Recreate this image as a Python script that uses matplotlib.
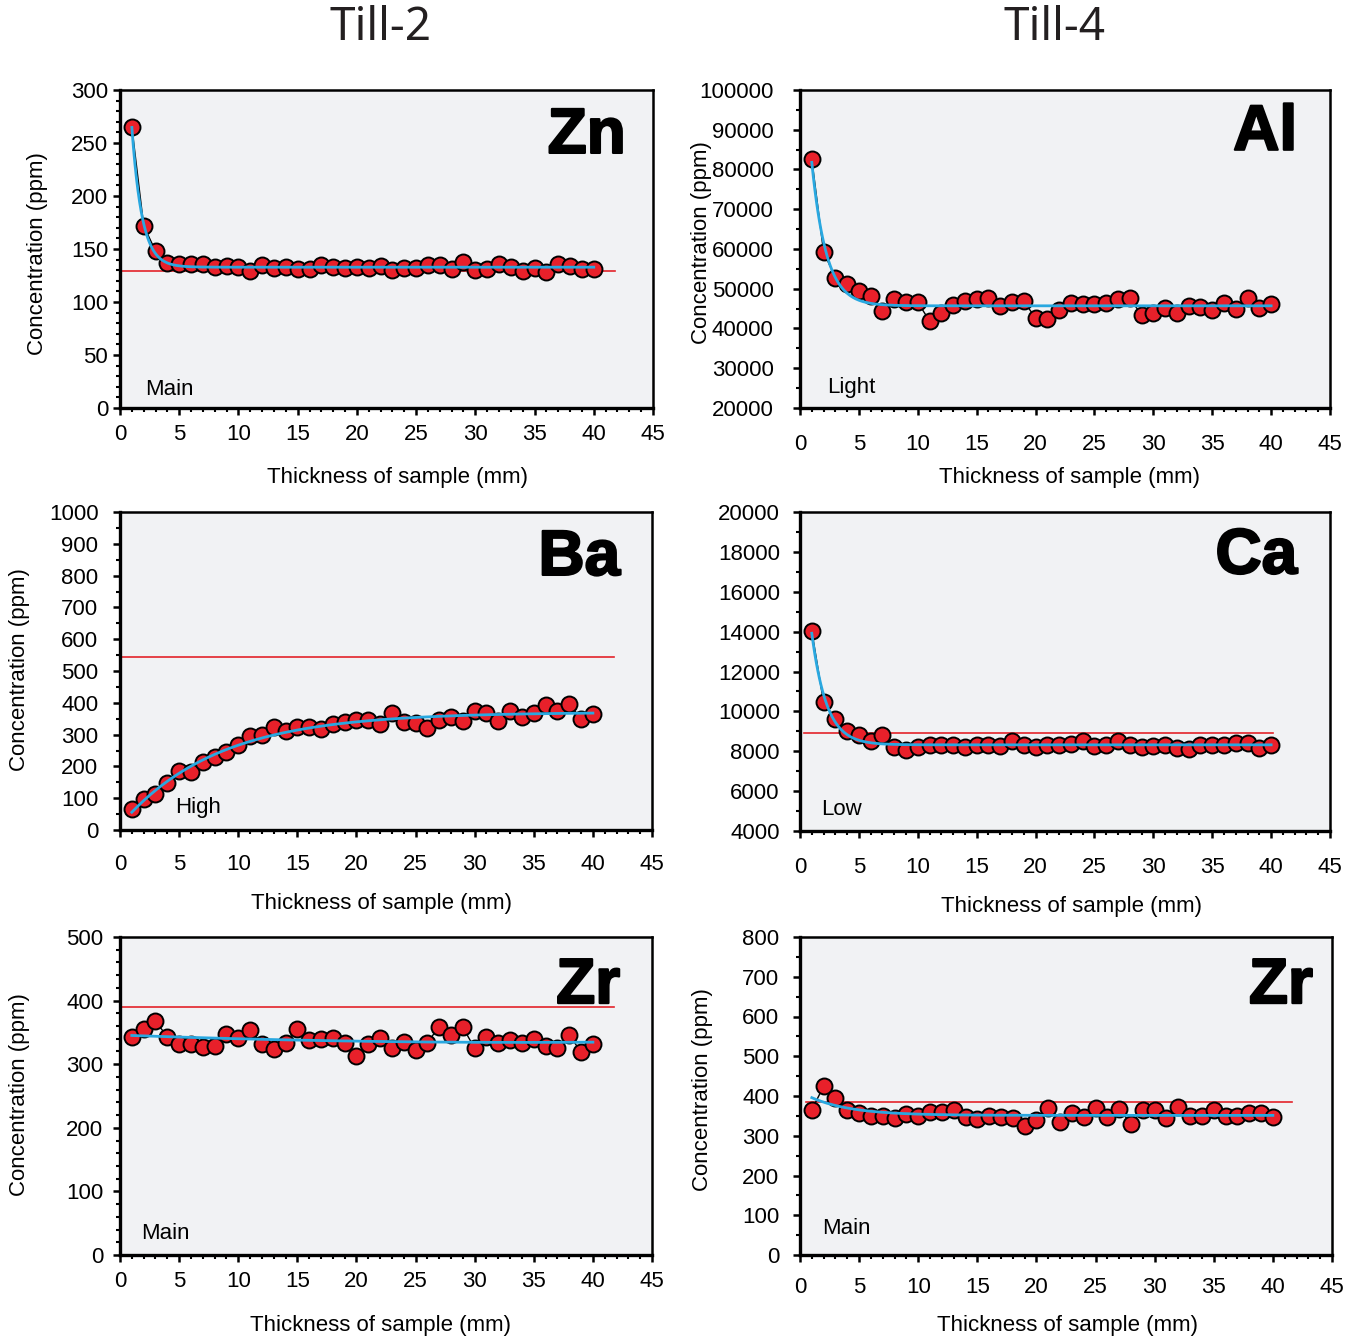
import numpy as np
import matplotlib
matplotlib.use("Agg")
import matplotlib.pyplot as plt
from matplotlib.ticker import MultipleLocator
import matplotlib.patheffects as pe

plt.rcParams['font.family'] = ['Liberation Sans', 'DejaVu Sans']

# ---------------- data ----------------
thickness = list(range(1, 41))

zn_till2 = [265, 172, 148, 137, 136, 135.5, 136, 133, 134, 133, 129.5, 135, 132, 133, 131.5,
            131.5, 134.5, 133, 132, 133, 132, 134, 130, 132, 132, 135, 134.5, 131.5, 137.5, 130,
            131.5, 135.5, 133, 129.5, 132.5, 128, 136, 134, 131.5, 131]
ba_till2 = [65, 96, 113, 149, 186, 182, 215, 231, 245, 266, 296, 298, 325, 312, 325, 324, 317,
            333, 340, 346, 346, 332, 369, 340, 337, 322, 346, 356, 343, 375, 369, 343, 375, 356,
            369, 392, 374, 396, 350, 365]
zr_till2 = [343, 356, 368, 343, 332, 332, 327, 329, 347, 341, 354, 332, 324, 334, 356, 338, 340,
            341, 333, 313, 332, 341, 325, 335, 322, 334, 359, 346, 358, 325, 343, 334, 338, 333,
            339, 329, 325, 346, 319, 331]
al_till4 = [82566, 59300, 52800, 51200, 49400, 48300, 44400, 47300, 46600, 46600, 41900, 44000,
            45900, 46900, 47300, 47600, 45700, 46700, 46900, 42600, 42300, 44700, 46300, 46100,
            46100, 46300, 47300, 47600, 43400, 44000, 45100, 44000, 45700, 45400, 44700, 46300,
            44900, 47700, 45100, 46200]
ca_till4 = [14029, 10457, 9618, 8998, 8797, 8495, 8830, 8210, 8042, 8210, 8327, 8327, 8327, 8210,
            8327, 8327, 8243, 8495, 8327, 8210, 8327, 8327, 8360, 8495, 8243, 8327, 8495, 8327,
            8210, 8243, 8327, 8159, 8109, 8327, 8327, 8327, 8411, 8411, 8159, 8327]
zr_till4 = [365, 425, 396, 365, 356, 350, 350, 345, 355, 350, 359, 359, 365, 346, 342, 350, 346,
            345, 325, 340, 369, 334, 356, 346, 369, 346, 367, 330, 365, 365, 344, 372, 350, 350,
            365, 350, 350, 356, 358, 348]

# reference (red) levels and their x extent
ref_levels = {'Zn': 129, 'Ba': 543, 'ZrL': 390, 'Al': None, 'Ca': 8914, 'ZrR': 384}
ref_extent = {'Zn': (0, 41.8), 'Ba': (0, 41.8), 'ZrL': (0, 41.8), 'Al': None,
              'Ca': (0.3, 40.2), 'ZrR': (0.5, 41.6)}

column_titles = ['Till-2', 'Till-4']

# ---------------- fitting ----------------
def exp_fit(x, y, xf):
    x = np.asarray(x, float); y = np.asarray(y, float)
    best = None
    for k in np.linspace(0.02, 3.0, 1500):
        A = np.column_stack([np.ones_like(x), np.exp(-k * x)])
        coef, *_ = np.linalg.lstsq(A, y, rcond=None)
        sse = np.sum((A @ coef - y) ** 2)
        if best is None or sse < best[0]:
            best = (sse, k, coef)
    _, k, (a, b) = best
    return a + b * np.exp(-k * xf)

def poly_fit(x, y, xf, deg=2):
    p = np.polyfit(x, y, deg)
    return np.polyval(p, xf)

# ---------------- layout ----------------
W, H = 1365, 1341
fig = plt.figure(figsize=(W / 100, H / 100), dpi=100)

def px_axes(l, r, t, b):
    return fig.add_axes([l / W, 1 - b / H, (r - l) / W, (b - t) / H])

panels = [
    dict(key='Zn', y=zn_till2, box=(120, 653, 90, 408), ylim=(0, 300), major=50, minor=10,
         sym='Zn', tag='Main', tag_pos=(0.048, 0.057), fit='exp', ylabel=True,
         ylab=(-0.155, 0.487), xlab=(0.52, -0.22), xpad=6.5, ypad=3.6, sym_pos=(0.949, 0.95)),
    dict(key='Ba', y=ba_till2, box=(120, 652, 512, 830), ylim=(0, 1000), major=100, minor=50,
         sym='Ba', tag='High', tag_pos=(0.103, 0.072), fit='exp', ylabel=True,
         ylab=(-0.188, 0.503), xlab=(0.492, -0.23), xpad=12, ypad=10.5, sym_pos=(0.94, 0.95)),
    dict(key='ZrL', y=zr_till2, box=(120, 652, 937, 1255), ylim=(0, 500), major=100, minor=20,
         sym='Zr', tag='Main', tag_pos=(0.039, 0.069), fit='poly', ylabel=True,
         ylab=(-0.188, 0.503), xlab=(0.489, -0.223), xpad=6.5, ypad=7, sym_pos=(0.94, 0.94)),
    dict(key='Al', y=al_till4, box=(800, 1330, 90, 408), ylim=(20000, 100000), major=10000, minor=5000,
         sym='Al', tag='Light', tag_pos=(0.051, 0.066), fit='exp', ylabel=True,
         ylab=(-0.186, 0.519), xlab=(0.509, -0.22), xpad=14, ypad=14, sym_pos=(0.938, 0.96)),
    dict(key='Ca', y=ca_till4, box=(800, 1330, 512, 831), ylim=(4000, 20000), major=2000, minor=1000,
         sym='Ca', tag='Low', tag_pos=(0.04, 0.066), fit='exp', ylabel=False,
         ylab=None, xlab=(0.513, -0.238), xpad=13.5, ypad=9.5, sym_pos=(0.938, 0.955)),
    dict(key='ZrR', y=zr_till4, box=(800, 1332, 937, 1255), ylim=(0, 800), major=100, minor=50,
         sym='Zr', tag='Main', tag_pos=(0.041, 0.082), fit='exp', ylabel=True,
         ylab=(-0.183, 0.519), xlab=(0.502, -0.223), xpad=11, ypad=10, sym_pos=(0.964, 0.94)),
]

RED = '#E3232A'
BLUE = '#29A8E0'
BG = '#F1F2F4'
FS = 16

xf = np.linspace(1, 40, 300)

for p in panels:
    ax = px_axes(*p['box'])
    ax.set_facecolor(BG)
    x = np.array(thickness, float)
    y = np.array(p['y'], float)

    lvl = ref_levels[p['key']]
    if lvl is not None:
        x0, x1 = ref_extent[p['key']]
        ax.plot([x0, x1], [lvl, lvl], color=RED, lw=1.2, zorder=2)

    ax.plot(x, y, color='black', lw=1.0, zorder=3)
    ax.plot(x, y, 'o', ms=11.5, mfc='#E8202A', mec='black', mew=1.4, zorder=4)

    if p['fit'] == 'exp':
        yf = exp_fit(x, y, xf)
    else:
        yf = poly_fit(x, y, xf, 2)
    ax.plot(xf, yf, color=BLUE, lw=2.0, zorder=5)

    ax.set_xlim(0, 45)
    ax.set_ylim(*p['ylim'])
    ax.xaxis.set_major_locator(MultipleLocator(5))
    ax.xaxis.set_minor_locator(MultipleLocator(1))
    ax.yaxis.set_major_locator(MultipleLocator(p['major']))
    ax.yaxis.set_minor_locator(MultipleLocator(p['minor']))

    for s in ['left', 'bottom']:
        ax.spines[s].set_linewidth(2.4)
    for s in ['top', 'right']:
        ax.spines[s].set_linewidth(1.8)

    ax.tick_params(which='major', direction='out', length=5, width=1.8, labelsize=FS)
    ax.tick_params(which='minor', direction='out', length=3, width=1.5)
    ax.tick_params(axis='x', which='major', pad=p['xpad'])
    ax.tick_params(axis='y', which='major', pad=p['ypad'])

    ax.set_xlabel('Thickness of sample (mm)', fontsize=FS)
    ax.xaxis.set_label_coords(*p['xlab'])
    ax.xaxis.label.set_va('center')
    if p['ylabel']:
        ax.set_ylabel('Concentration (ppm)', fontsize=FS)
        ax.yaxis.set_label_coords(*p['ylab'])
        ax.yaxis.label.set_va('center')
        ax.yaxis.label.set_ha('center')

    ax.text(p['tag_pos'][0], p['tag_pos'][1], p['tag'], transform=ax.transAxes,
            fontsize=FS, ha='left', va='center')
    t = ax.text(p['sym_pos'][0], p['sym_pos'][1], p['sym'], transform=ax.transAxes,
                fontsize=46, fontweight='bold', ha='right', va='top', zorder=6)
    t.set_path_effects([pe.withStroke(linewidth=1.6, foreground='black')])

fig.text(381 / W, 1 - 28 / H, column_titles[0], fontsize=33, family=['Noto Sans', 'DejaVu Sans'],
         ha='center', va='center', color='#231F20')
fig.text(1055 / W, 1 - 28 / H, column_titles[1], fontsize=33, family=['Noto Sans', 'DejaVu Sans'],
         ha='center', va='center', color='#231F20')

fig.savefig('out.png', dpi=100, facecolor='white')
